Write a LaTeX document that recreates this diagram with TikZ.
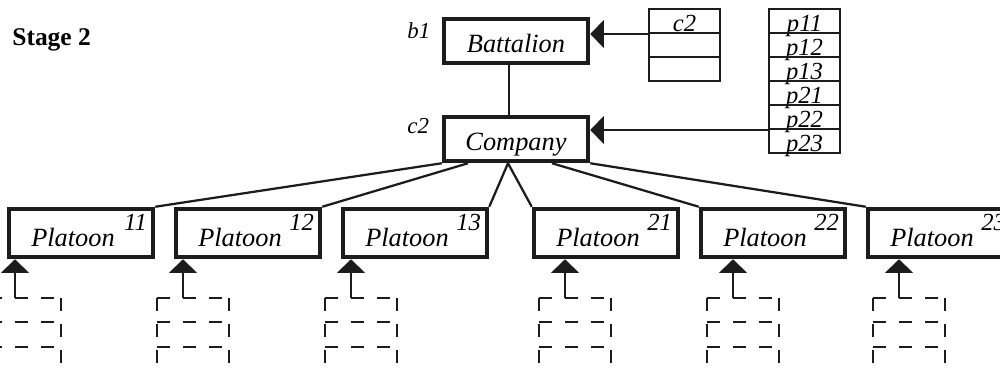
\documentclass[tikz,border=0pt]{standalone}
\usepackage{fontspec}
\setmainfont{Liberation Serif}
\usetikzlibrary{arrows.meta,calc}
\definecolor{ink}{HTML}{1C1C1C}
\tikzset{
  unitbox/.style={rectangle,draw=ink,fill=white,line width=0.9mm,
    minimum width=28.8mm,minimum height=8.8mm,inner sep=0pt,
    text height=4.6mm,text depth=0pt,font=\fontsize{15}{18}\selectfont\itshape},
  platbox/.style={unitbox,minimum height=9.6mm,text height=5.4mm,
    execute at end node={\hspace*{3.2mm}}},
  subno/.style={anchor=north east,inner sep=0pt,font=\fontsize{14}{16}\selectfont\itshape},
  tag/.style={anchor=base west,inner sep=0pt,font=\fontsize{13}{15}\selectfont\itshape},
  cell/.style={rectangle,draw=ink,line width=0.4mm,minimum width=14.2mm,
    minimum height=4.8mm,inner sep=0pt,text height=4.2mm,text depth=0pt,
    font=\fontsize{14}{16}\selectfont\itshape},
  link/.style={line width=0.45mm,color=ink},
  ptr/.style={-{Triangle[length=2.7mm,width=5.5mm]},line width=0.45mm,color=ink},
  dtab/.style={line width=0.4mm,color=ink,dash pattern=on 2.6mm off 2.6mm},
}
\begin{document}
\begin{tikzpicture}[x=0.2mm,y=-0.2mm]
  \useasboundingbox (0,0) rectangle (1000,368);
  \node[anchor=base west,inner sep=0pt,font=\fontsize{14.5}{17}\selectfont\bfseries]
    (title) at (12,45) {Stage 2};
  % upper levels
  \node[unitbox] (bat) at (516,41) {Battalion};
  \node[unitbox] (cmp) at (516,139) {Company};
  \node[tag] (tb) at (407,38) {b1}; \node[tag] (tc) at (407,133) {c2};
  \draw[link] ([xshift=-1.4mm]bat.south) -- ([xshift=-1.4mm]cmp.north);
  % pointer lists
  \node[cell] (c1) at (684.5,21) {c2}; \node[cell] (c2) at (684.5,45) {};
  \node[cell] (c3) at (684.5,69) {};
  \node[cell] (q1) at (804.5,21) {p11}; \node[cell] (q2) at (804.5,45) {p12};
  \node[cell] (q3) at (804.5,69) {p13}; \node[cell] (q4) at (804.5,93) {p21};
  \node[cell] (q5) at (804.5,117) {p22}; \node[cell] (q6) at (804.5,141) {p23};
  \draw[ptr] (c1.south west) -- (c1.south west -| bat.east);
  \draw[ptr] (q5.south west) -- (q5.south west -| cmp.east);
  % platoons
  \node[platbox] (p11) at (81,233) {Platoon}; \node[platbox] (p12) at (248,233) {Platoon};
  \node[platbox] (p13) at (415,233) {Platoon}; \node[platbox] (p21) at (606,233) {Platoon};
  \node[platbox] (p22) at (773,233) {Platoon}; \node[platbox] (p23) at (940,233) {Platoon};
  \node[subno] (n11) at ([xshift=-1.6mm,yshift=-1.4mm]p11.north east) {11};
  \node[subno] (n12) at ([xshift=-1.6mm,yshift=-1.4mm]p12.north east) {12};
  \node[subno] (n13) at ([xshift=-1.6mm,yshift=-1.4mm]p13.north east) {13};
  \node[subno] (n21) at ([xshift=-1.6mm,yshift=-1.4mm]p21.north east) {21};
  \node[subno] (n22) at ([xshift=-1.6mm,yshift=-1.4mm]p22.north east) {22};
  \node[subno] (n23) at ([xshift=-1.6mm,yshift=-1.4mm]p23.north east) {23};
  \draw[link] (cmp.south west) -- (p11.north east);
  \draw[link] ([xshift=-9.6mm]cmp.south) -- (p12.north east);
  \draw[link] ([xshift=-1.6mm]cmp.south) -- (p13.north east);
  \draw[link] ([xshift=-1.6mm]cmp.south) -- (p21.north west);
  \draw[link] ([xshift=7.2mm]cmp.south) -- (p22.north west);
  \draw[link] (cmp.south east) -- (p23.north west);
  % dashed lists under each platoon
  \foreach \p/\x in {11/15,12/183,13/351,21/565,22/733,23/899}{
    \coordinate (f\p) at (\x,298);
    \draw[ptr] (f\p) -- (f\p |- p\p.south);
    \draw[dtab] (\x-26,298) -- ++(0,80) (\x+46,298) -- ++(0,80);
    \foreach \y in {298,322,347,371} \draw[dtab] (\x-26,\y) -- ++(72,0);
  }
\end{tikzpicture}
\end{document}
